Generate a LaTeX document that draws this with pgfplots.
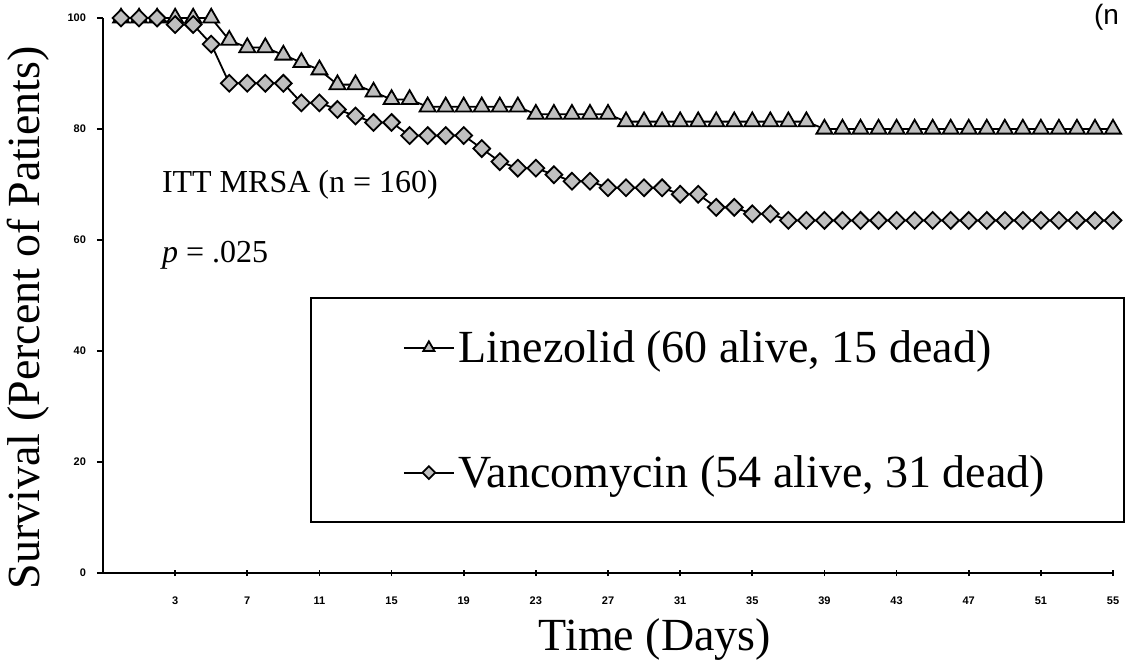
\documentclass[border=0pt]{standalone}
\usepackage{fontspec}
\setmainfont{Liberation Serif}
\setsansfont{Liberation Sans}
\usepackage{pgfplots}
\pgfplotsset{compat=1.18}

\begin{document}
\begin{tikzpicture}
\useasboundingbox (-51.5pt,-46pt) rectangle (512pt,286.5pt);
\begin{axis}[
  scale only axis,
  width=505pt, height=277.5pt,
  xmin=-1, xmax=55, ymin=0, ymax=100,
  clip=false,
  axis lines*=left,
  axis line style={line width=1pt},
  xtick={3,7,...,55},
  ytick={0,20,...,100},
  tick style={line width=0.8pt, black},
  xtick align=center,
  ytick align=outside,
  major tick length=3pt,
  /pgf/number format/assume math mode=true,
  tick label style={font=\sffamily\bfseries\fontsize{5.5}{6}\selectfont},
  xticklabel style={yshift=-7pt},
  yticklabel style={xshift=-2pt},
  xlabel={Time (Days)},
  ylabel={Survival (Percent of Patients)},
  label style={font=\fontsize{23}{27}\selectfont},
  xlabel style={at={(axis description cs:0.5465,-0.1207)}, anchor=center},
  ylabel style={at={(axis description cs:-0.0743,0.46)}, anchor=center, rotate=0},
  legend style={at={(axis cs:10.47,49.7)}, anchor=north west,
    draw=black, line width=1.1pt, fill=white,
    font=\fontsize{23}{27}\selectfont,
    inner xsep=46pt, inner ysep=14pt, row sep=41pt},
  legend cell align=left,
  legend image code/.code={
    \draw[mark repeat=2,mark phase=2,#1,mark size=3.2pt] plot coordinates {(0pt,0pt) (12.5pt,0pt) (25pt,0pt)};},
]
% Linezolid
\addplot[black, line width=0.9pt, mark=triangle*, mark size=4.6pt,
  mark options={fill=gray!50, draw=black, line width=0.9pt}] coordinates {
  (0,100) (1,100) (2,100) (3,100) (4,100) (5,100) (6,96) (7,94.67) (8,94.67)
  (9,93.33) (10,92) (11,90.67) (12,88) (13,88) (14,86.67) (15,85.33) (16,85.33)
  (17,84) (18,84) (19,84) (20,84) (21,84) (22,84) (23,82.67) (24,82.67)
  (25,82.67) (26,82.67) (27,82.67) (28,81.33) (29,81.33) (30,81.33) (31,81.33)
  (32,81.33) (33,81.33) (34,81.33) (35,81.33) (36,81.33) (37,81.33) (38,81.33)
  (39,80) (40,80) (41,80) (42,80) (43,80) (44,80) (45,80) (46,80) (47,80)
  (48,80) (49,80) (50,80) (51,80) (52,80) (53,80) (54,80) (55,80)
};
\addlegendentry{\makebox[284.5pt][l]{Linezolid (60 alive, 15 dead)}}
% Vancomycin
\addplot[black, line width=0.9pt, mark=diamond*, mark size=4.2pt,
  mark options={fill=gray!50, draw=black, line width=0.9pt, xscale=1.33}] coordinates {
  (0,100) (1,100) (2,100) (3,98.82) (4,98.82) (5,95.29) (6,88.24) (7,88.24)
  (8,88.24) (9,88.24) (10,84.71) (11,84.71) (12,83.53) (13,82.35) (14,81.18)
  (15,81.18) (16,78.82) (17,78.82) (18,78.82) (19,78.82) (20,76.47) (21,74.12)
  (22,72.94) (23,72.94) (24,71.76) (25,70.59) (26,70.59) (27,69.41) (28,69.41)
  (29,69.41) (30,69.41) (31,68.24) (32,68.24) (33,65.88) (34,65.88) (35,64.71)
  (36,64.71) (37,63.53) (38,63.53) (39,63.53) (40,63.53) (41,63.53) (42,63.53)
  (43,63.53) (44,63.53) (45,63.53) (46,63.53) (47,63.53) (48,63.53) (49,63.53)
  (50,63.53) (51,63.53) (52,63.53) (53,63.53) (54,63.53) (55,63.53)
};
\addlegendentry{\makebox[284.5pt][l]{Vancomycin (54 alive, 31 dead)\rule[-28pt]{0pt}{1pt}}}
\node[anchor=west, font=\fontsize{16}{19}\selectfont] at (axis cs:1.88,69.9) {ITT MRSA (n = 160)};
\node[anchor=west, font=\fontsize{16}{19}\selectfont] at (axis cs:1.88,57.3) {\textit{p} = .025};
\node[anchor=east, font=\sffamily\fontsize{14}{16}\selectfont] at (axis description cs:1.0129,1.002) {(n};
\end{axis}
\end{tikzpicture}
\end{document}
